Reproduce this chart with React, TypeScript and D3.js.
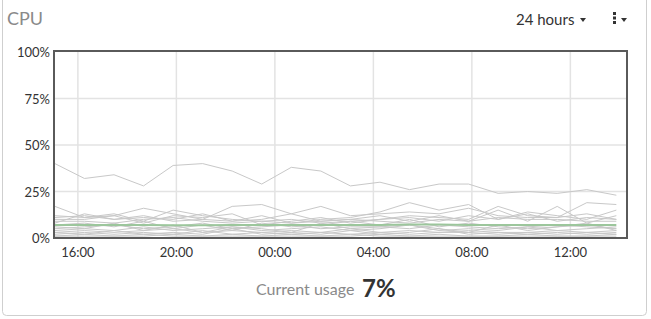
import React from "react";
import * as d3 from "d3";

const W = 651;
const H = 319;

// Sample times: 20 samples every 72 minutes starting 15:04
const startTime = new Date(2024, 0, 1, 15, 4);
const stepMinutes = 72;

const yTicks = [0, 25, 50, 75, 100];
const xTickHours = [16, 20, 24, 28, 32, 36];
const xTickLabels = ["16:00", "20:00", "00:00", "04:00", "08:00", "12:00"];

// Per-host CPU usage (%)
const hostA = [40, 32, 34, 28, 39, 40, 36, 29, 38, 36, 28, 30, 26, 29, 29, 24, 25, 24, 26, 23];
const hostB = [17, 11, 12, 16, 13, 10, 17, 18, 13, 17, 12, 13, 14, 13, 16, 12, 11, 11, 19, 18];
const hostC = [12, 11, 13, 9, 15, 12, 10, 9, 10, 8, 9, 10, 12, 11, 10, 17, 12, 11, 13, 10];
const hostD = [11, 12, 10, 11, 10, 13, 9, 12, 8, 10, 11, 14, 19, 15, 18, 10, 14, 12, 10, 15];
const hostE = [8, 13, 10, 12, 9, 10, 9, 10, 13, 9, 10, 12, 9, 12, 9, 15, 9, 17, 8, 12];
const hostF = [10, 10, 12, 8, 12, 11, 13, 7, 9, 11, 8, 10, 11, 9, 12, 10, 13, 9, 11, 10];
const hostG = [9, 9, 8, 10, 11, 9, 8, 9, 8, 9, 10, 9, 8, 10, 9, 11, 10, 10, 9, 9];
const hostH = [5, 6, 7, 5, 6, 8, 5, 6, 7, 5, 6, 6, 5, 7, 6, 5, 6, 7, 6, 5];
const hostI = [4, 5, 4, 6, 4, 5, 6, 4, 5, 6, 4, 5, 7, 4, 5, 4, 6, 4, 5, 6];
const hostJ = [3, 4, 3, 4, 5, 3, 4, 3, 4, 3, 5, 3, 4, 3, 4, 3, 3, 4, 3, 4];
const hostK = [2, 3, 2, 3, 2, 4, 2, 3, 2, 3, 2, 3, 2, 3, 3, 2, 3, 2, 3, 2];
const hostL = [1, 2, 1, 2, 1, 1, 2, 1, 2, 1, 1, 2, 1, 2, 1, 1, 2, 1, 1, 2];
const hostM = [6, 5, 8, 4, 7, 3, 6, 5, 3, 8, 5, 6, 7, 5, 3, 7, 4, 6, 8, 4];
const hostN = [3, 2, 4, 2, 3, 2, 5, 2, 3, 2, 4, 2, 3, 5, 2, 3, 2, 3, 2, 3];
const hostO = [7, 8, 6, 9, 5, 7, 4, 8, 6, 7, 9, 7, 10, 6, 8, 6, 5, 6, 7, 5];
const hostP = [1, 1, 1, 1, 2, 1, 1, 1, 1, 1, 2, 1, 1, 1, 1, 1, 1, 1, 1, 1];

// Overall average usage
const average = [7, 7, 7, 7, 6.8, 6.8, 7, 7, 7, 7, 7, 7, 7.2, 7.2, 7, 7, 7, 7, 7, 7];

const hosts = [hostA, hostB, hostC, hostD, hostE, hostF, hostG, hostH, hostI, hostJ, hostK, hostL, hostM, hostN, hostO, hostP];

const currentUsage = 7;

const margin = { left: 54, right: 627, top: 51, bottom: 238 };

export default function App() {
  const base = new Date(2024, 0, 1, 0, 0);
  const hourDate = (h: number) => new Date(base.getTime() + h * 3600e3);

  const x = d3
    .scaleTime()
    .domain([hourDate(15.03), hourDate(38.3)])
    .range([margin.left, margin.right]);
  const y = d3.scaleLinear().domain([0, 100]).range([margin.bottom, margin.top + 1]);

  const times = hostA.map((_, i) => new Date(startTime.getTime() + i * stepMinutes * 60e3));
  const line = d3
    .line<number>()
    .x((_, i) => x(times[i]))
    .y((d) => y(d));

  const font = "Lato, 'Open Sans', sans-serif";

  return (
    <svg
      width={W}
      height={H}
      style={{ position: "absolute", left: 0, top: 0, background: "#fff" }}
      fontFamily={font}
    >
      {/* card frame */}
      <rect x={2.5} y={-6} width={644} height={321.5} rx={4} fill="#fff" stroke="#cfcfcf" />

      <text x={7} y={25} fontSize={18} fill="#8a8a8a">CPU</text>

      <text x={516} y={25} fontSize={15} fill="#333">24 hours</text>
      <path d="M580,18 l6,0 l-3,4 z" fill="#333" />
      <g fill="#333">
        <rect x={613} y={12} width={3} height={3} />
        <rect x={613} y={16.5} width={3} height={3} />
        <rect x={613} y={21} width={3} height={3} />
      </g>
      <path d="M621,18 l6,0 l-3,4 z" fill="#333" />

      {/* grid */}
      <g stroke="#e3e3e3" strokeWidth={1.5}>
        {yTicks.slice(1, -1).map((t) => (
          <line key={t} x1={margin.left} x2={margin.right} y1={y(t)} y2={y(t)} />
        ))}
        {xTickHours.map((h) => (
          <line key={h} x1={x(hourDate(h))} x2={x(hourDate(h))} y1={margin.top} y2={margin.bottom} />
        ))}
      </g>

      {/* host series */}
      <g fill="none" stroke="#c8c8c8" strokeWidth={1}>
        {hosts.map((s, i) => (
          <path key={i} d={line(s) || ""} />
        ))}
      </g>
      <path d={line(average) || ""} fill="none" stroke="#9cc69c" strokeWidth={2} />

      {/* plot frame */}
      <rect
        x={margin.left}
        y={margin.top}
        width={margin.right - margin.left}
        height={margin.bottom - margin.top}
        fill="none"
        stroke="#5a5a5a"
        strokeWidth={2}
      />

      {/* y axis labels */}
      <g fontSize={13} fill="#333" textAnchor="end">
        {yTicks.map((t) => (
          <text key={t} x={50} y={y(t) + 5}>{t}%</text>
        ))}
      </g>

      {/* x axis labels */}
      <g fontSize={13} fill="#333" textAnchor="middle">
        {xTickHours.map((h, i) => (
          <text key={h} x={x(hourDate(h))} y={257}>{xTickLabels[i]}</text>
        ))}
      </g>

      <text x={256} y={295} fontSize={16} fill="#8a8a8a">Current usage</text>
      <text x={362} y={297} fontSize={24} fontWeight="bold" fill="#333">{currentUsage}%</text>
    </svg>
  );
}
